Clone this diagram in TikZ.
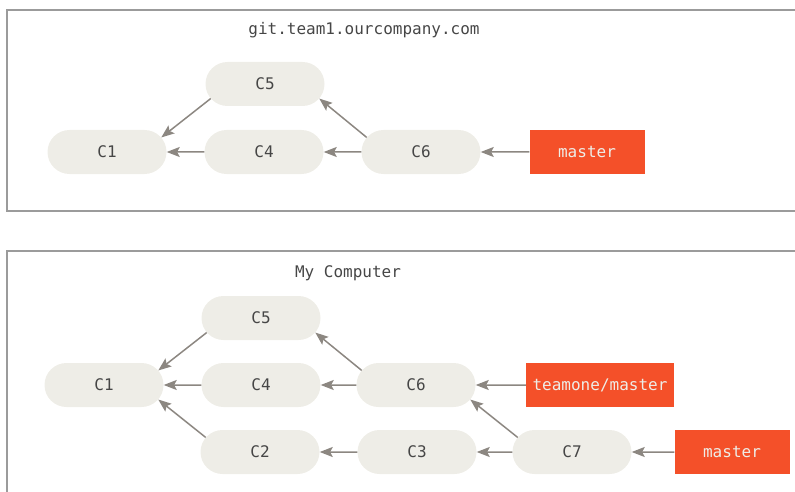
\documentclass[tikz,border=0pt]{standalone}
\usepackage{fontspec}
\setmonofont{DejaVu Sans Mono}
\usetikzlibrary{positioning, shapes.misc, arrows.meta}
\definecolor{ccommit}{RGB}{238,237,231}
\definecolor{ctext}{RGB}{70,70,70}
\definecolor{carrow}{RGB}{140,135,129}
\definecolor{cbranch}{RGB}{244,80,41}
\definecolor{cframe}{RGB}{155,155,155}

\begin{document}
\begin{tikzpicture}[x=1pt, y=-1pt, font=\ttfamily\fontsize{16}{18}\selectfont,
    commit/.style={rounded rectangle, fill=ccommit, text=ctext, minimum width=119pt, minimum height=44pt, inner sep=0pt},
    branch/.style={fill=cbranch, text=ccommit, minimum height=44pt, inner sep=0pt},
    link/.style={draw=carrow, line width=1.5pt, -{Stealth[length=13pt, width=10pt, inset=2.5pt]}},
    frame/.style={draw=cframe, line width=1.3pt},
    caption/.style={text=ctext}]
  \useasboundingbox (0,0) rectangle (795,492);

  % --- server: git.team1.ourcompany.com ---
  \draw[frame] (795,10) -- (7,10) -- (7,211) -- (795,211);
  \node[caption] (srv) at (364,30) {git.team1.ourcompany.com};
  \node[commit] (s1) at (107,152) {C1};
  \node[commit] (s4) at (264,152) {C4};
  \node[commit] (s5) at (265,84) {C5};
  \node[commit] (s6) at (421,152) {C6};
  \node[branch, minimum width=115pt] (smaster) at (587,152) {master};
  \draw[link] (s4) -- (s1);
  \draw[link] (s5.195) -- (s1.15);
  \draw[link] (s6) -- (s4);
  \draw[link] (s6.165) -- (s5.345);
  \draw[link] (smaster) -- (s6);

  % --- local: My Computer ---
  \draw[frame] (795,251) -- (7,251) -- (7,492);
  \node[caption] (pc) at (348,273) {My Computer};
  \node[commit] (m1) at (104,385) {C1};
  \node[commit] (m5) at (261,318) {C5};
  \node[commit] (m4) at (261,385) {C4};
  \node[commit] (m2) at (260,452) {C2};
  \node[commit] (m6) at (416,385) {C6};
  \node[commit] (m3) at (417,452) {C3};
  \node[commit] (m7) at (572,452) {C7};
  \node[branch, minimum width=148pt] (tmaster) at (600,385) {teamone/master};
  \node[branch, minimum width=115pt] (mmaster) at (732,452) {master};
  \draw[link] (m4) -- (m1);
  \draw[link] (m5.195) -- (m1.15);
  \draw[link] (m2.165) -- (m1.345);
  \draw[link] (m6) -- (m4);
  \draw[link] (m6.165) -- (m5.345);
  \draw[link] (m3) -- (m2);
  \draw[link] (m7) -- (m3);
  \draw[link] (m7.165) -- (m6.345);
  \draw[link] (tmaster) -- (m6);
  \draw[link] (mmaster) -- (m7);
\end{tikzpicture}
\end{document}
